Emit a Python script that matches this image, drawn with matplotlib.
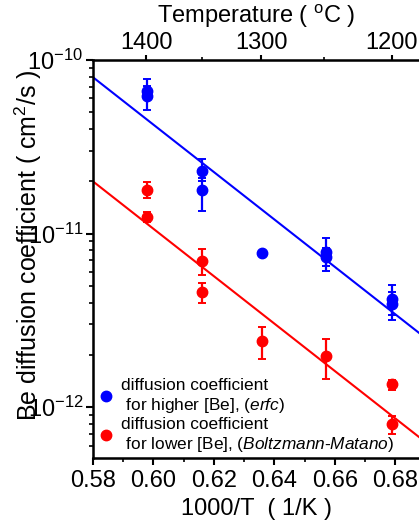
"""
Be diffusion coefficient vs 1000/T, with a temperature axis on top.
"""
from matplotlib import pyplot as plt
from matplotlib import ticker
import numpy as np

plt.rcParams['font.family'] = ['Liberation Sans', 'DejaVu Sans']
plt.rcParams['mathtext.fontset'] = 'custom'
plt.rcParams['mathtext.rm'] = 'Liberation Sans'
plt.rcParams['mathtext.it'] = 'Liberation Sans:italic'

# higher [Be], erfc fit
hi_x = [0.598, 0.598, 0.616, 0.616, 0.636, 0.657, 0.657, 0.679, 0.679]
hi_D = [6.2e-11, 6.6e-11, 2.28e-11, 1.79e-11, 7.7e-12, 7.8e-12, 7.3e-12, 4.2e-12, 3.95e-12]
hi_lo = [5.15e-11, 6.1e-11, 2.0e-11, 1.34e-11, 7.5e-12, 6.1e-12, 6.5e-12, 3.4e-12, 3.17e-12]
hi_hi = [7.1e-11, 7.75e-11, 2.68e-11, 2.1e-11, 7.9e-12, 9.4e-12, 8.3e-12, 5.05e-12, 4.6e-12]

# lower [Be], Boltzmann-Matano
lo_x = [0.598, 0.598, 0.616, 0.616, 0.636, 0.657, 0.679, 0.679]
lo_D = [1.79e-11, 1.25e-11, 6.93e-12, 4.62e-12, 2.40e-12, 1.97e-12, 1.35e-12, 7.98e-13]
lo_lo = [1.61e-11, 1.17e-11, 5.77e-12, 3.99e-12, 1.90e-12, 1.45e-12, 1.26e-12, 6.97e-13]
lo_hi = [1.99e-11, 1.33e-11, 8.11e-12, 5.21e-12, 2.90e-12, 2.46e-12, 1.44e-12, 8.9e-13]

# Arrhenius fits: log10(D) = a + b * (1000/T)
hi_fit = (-2.177, -13.66)
lo_fit = (-2.777, -13.66)

temp_ticks = [1400, 1300, 1200]
temp_minor = [1350, 1250]

fig = plt.figure(figsize=(4.19, 5.26), dpi=100)
ax = fig.add_axes([0.222, 0.129, 0.778, 0.757])

xmin, xmax = 0.58, 0.6878
xf = np.array([xmin, xmax])

for xs, ds, lo, hi, fit, col in [(hi_x, hi_D, hi_lo, hi_hi, hi_fit, "blue"),
                                  (lo_x, lo_D, lo_lo, lo_hi, lo_fit, "red")]:
	ds = np.array(ds)
	yerr = [ds - np.array(lo), np.array(hi) - ds]
	ax.errorbar(xs, ds, yerr=yerr, fmt="o", color=col, ms=7.5, elinewidth=1.6,
				capsize=3, capthick=1.4, zorder=3)
	ax.plot(xf, 10 ** (fit[0] + fit[1] * xf), color=col, lw=1.5, zorder=2)

# legend handles
ax.plot([], [], "o", color="blue", ms=7.5,
		label="diffusion coefficient\n for higher [Be], ($\\mathit{erfc}$)")
ax.plot([], [], "o", color="red", ms=7.5,
		label="diffusion coefficient\n for lower [Be], ($\\mathit{Boltzmann}$-$\\mathit{Matano}$)")
handles, labels = ax.get_legend_handles_labels()
ax.legend(handles[-2:], labels[-2:], loc="lower left", bbox_to_anchor=(-0.02, -0.015),
		  frameon=False, fontsize=12.4, handletextpad=0.3, handlelength=1.1,
		  labelspacing=0.12, borderaxespad=0.2)

ax.set_yscale("log")
ax.set_xlim(xmin, xmax)
ax.set_ylim(5.08e-13, 1e-10)
ax.yaxis.set_major_locator(ticker.LogLocator(base=10, numticks=10))
ax.yaxis.set_minor_locator(ticker.LogLocator(base=10, subs=np.arange(2, 10), numticks=10))
ax.yaxis.set_major_formatter(ticker.LogFormatterMathtext())
ax.yaxis.set_minor_formatter(ticker.NullFormatter())
ax.xaxis.set_major_locator(ticker.MultipleLocator(0.02))
ax.xaxis.set_minor_locator(ticker.MultipleLocator(0.01))
ax.xaxis.set_major_formatter(ticker.FormatStrFormatter("%.2f"))

for s in ["left", "bottom", "top"]:
	ax.spines[s].set_linewidth(1.8)
ax.spines["right"].set_visible(False)
ax.tick_params(which="major", direction="out", length=5, width=1.5, labelsize=17)
ax.tick_params(which="minor", direction="out", length=3, width=1.2)
ax.tick_params(axis="y", which="major", pad=2)

ax.set_xlabel("1000/T  ( 1/K )", fontsize=17, labelpad=4)
ax.set_ylabel("Be diffusion coefficient ( cm$^2$/s )", fontsize=18)
ax.yaxis.set_label_coords(-0.15, 0.535)

# temperature axis on top
top = ax.twiny()
top.set_xlim(xmin, xmax)
top.spines["right"].set_visible(False)
top.set_xticks([1000.0 / (t + 273.15) for t in temp_ticks])
top.set_xticklabels([str(t) for t in temp_ticks])
top.set_xticks([1000.0 / (t + 273.15) for t in temp_minor], minor=True)
top.tick_params(which="major", direction="out", length=3.5, width=1.5, labelsize=17, pad=0.5)
top.tick_params(which="minor", direction="out", length=2.5, width=1.2)
top.set_xlabel("Temperature ( $^{\\rm o}$C )", fontsize=17, labelpad=7)

fig.savefig("out.png", dpi=100)
